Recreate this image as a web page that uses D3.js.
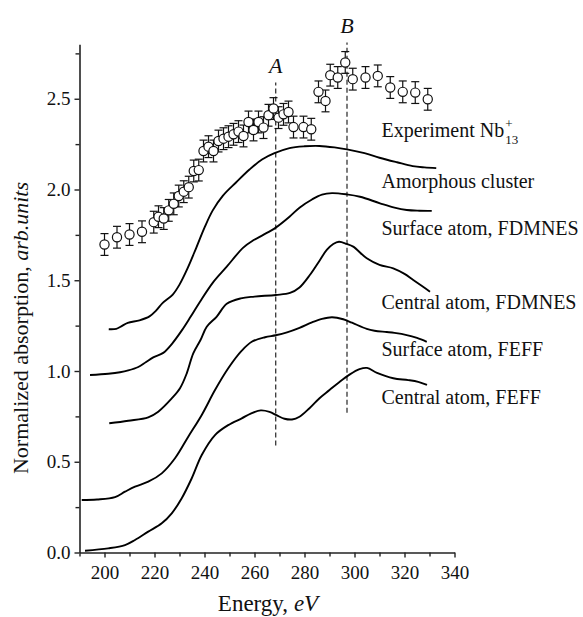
<!DOCTYPE html>
<html>
<head>
<meta charset="utf-8">
<script src="https://cdn.jsdelivr.net/npm/d3@7"></script>
<style>
  body { margin: 0; background: #fff; }
  svg text { font-family: "Liberation Serif", "Times New Roman", serif; fill: #111; }
</style>
</head>
<body>
<svg id="chart" width="583" height="617"></svg>
<script>
// experiment Nb13+ (points with error bars)
var expE = [200, 205, 210, 215, 219.7, 221.6, 223.7, 225.7, 227.7, 229.7, 231.7, 233.7, 235.7, 237.7,
  239.6, 241.6, 243.6, 245.6, 247.6, 249.6, 251.6, 253.6, 255.6, 257.6, 259.6, 261.6, 263.6, 265.6,
  267.6, 269.6, 271.6, 273.6, 275.6, 279.6, 282.7, 285.6, 288.4, 290.3, 293.3, 296.3, 299.3,
  304.4, 309.3, 314.3, 319.3, 324.3, 329.3];
var expV = [1.697, 1.737, 1.752, 1.767, 1.820, 1.850, 1.840, 1.885, 1.921, 1.964, 1.988, 2.013, 2.102, 2.107,
  2.212, 2.236, 2.212, 2.267, 2.280, 2.291, 2.304, 2.319, 2.295, 2.372, 2.328, 2.372, 2.341, 2.409,
  2.446, 2.396, 2.414, 2.427, 2.344, 2.344, 2.332, 2.538, 2.488, 2.630, 2.617, 2.700, 2.608,
  2.617, 2.626, 2.562, 2.538, 2.534, 2.497];
var expErr = [0.06, 0.06, 0.06, 0.06, 0.06, 0.06, 0.06, 0.06, 0.06, 0.06, 0.06, 0.06, 0.06, 0.06,
  0.06, 0.06, 0.06, 0.06, 0.06, 0.06, 0.06, 0.06, 0.06, 0.06, 0.06, 0.06, 0.06, 0.06,
  0.06, 0.06, 0.06, 0.06, 0.06, 0.06, 0.06, 0.06, 0.06, 0.06, 0.06, 0.06, 0.06,
  0.06, 0.06, 0.06, 0.06, 0.06, 0.06];

// theory curves
var amorphE = [201.7, 204.7, 206.7, 209.3, 214, 218, 220.7, 223.3, 227.3, 230, 233.3, 236.7, 240, 243.3,
  247.3, 252.7, 258, 263, 268, 274, 280, 286, 292, 297, 304, 310, 317, 323.3, 328, 332.7];
var amorphV = [1.230, 1.232, 1.246, 1.265, 1.279, 1.301, 1.334, 1.375, 1.421, 1.476, 1.568, 1.679, 1.790, 1.885,
  1.965, 2.040, 2.110, 2.165, 2.200, 2.228, 2.238, 2.240, 2.232, 2.221, 2.200, 2.175, 2.150, 2.129, 2.122, 2.118];

var surfFdE = [194.2, 201.5, 206.2, 209.5, 213.5, 216.5, 219.5, 223.5, 227, 231, 234.5, 238.2, 243.5, 248.9,
  255.5, 259.5, 263.5, 268.5, 274, 278, 283, 287, 291, 296.9, 302.2, 310.2, 316, 320.9, 326, 330.9];
var surfFdV = [0.978, 0.985, 0.993, 1.003, 1.022, 1.048, 1.075, 1.100, 1.150, 1.225, 1.300, 1.382, 1.490, 1.575,
  1.680, 1.720, 1.750, 1.790, 1.850, 1.900, 1.945, 1.972, 1.980, 1.973, 1.960, 1.924, 1.900, 1.887, 1.883, 1.882];

var centFdE = [201.9, 209.5, 217.5, 221.5, 226.9, 230.2, 232.9, 235.5, 238.4, 240.9, 244.9, 248.9, 254.5, 260,
  268.5, 274.2, 278, 282.2, 286.2, 288.9, 291.5, 293.8, 296.9, 299.5, 304.9, 310, 315.5, 320, 323.5, 327, 330.2];
var centFdV = [0.712, 0.726, 0.745, 0.776, 0.849, 0.905, 0.987, 1.097, 1.171, 1.244, 1.300, 1.370, 1.400, 1.410,
  1.419, 1.430, 1.460, 1.530, 1.612, 1.667, 1.700, 1.712, 1.700, 1.685, 1.621, 1.585, 1.566, 1.535, 1.501, 1.468, 1.437];

var surfFeE = [190.9, 197, 204.2, 208.2, 212.2, 217.5, 222.9, 228.2, 233.5, 238.9, 244.2, 249.5, 254.9, 258.9,
  264.2, 268.5, 273, 278, 283, 287, 291, 295.5, 299, 304.9, 308, 312.9, 316, 320.9, 325, 328.9];
var surfFeV = [0.289, 0.292, 0.305, 0.335, 0.363, 0.390, 0.436, 0.519, 0.638, 0.758, 0.895, 1.015, 1.112, 1.161,
  1.186, 1.197, 1.213, 1.238, 1.268, 1.287, 1.296, 1.285, 1.266, 1.232, 1.222, 1.215, 1.210, 1.198, 1.182, 1.161];

var centFeE = [192.2, 201.5, 208.2, 212.2, 217.5, 222.9, 226.9, 230.9, 234.9, 238.9, 244.2, 249.5, 254.9, 258.5,
  262.5, 266, 269, 272, 275, 278, 282, 286, 290, 294, 298, 302, 305, 309, 315.5, 321.5, 325.5, 329];
var centFeV = [0.010, 0.023, 0.041, 0.069, 0.115, 0.161, 0.216, 0.299, 0.409, 0.537, 0.647, 0.702, 0.739, 0.765,
  0.783, 0.775, 0.755, 0.737, 0.733, 0.748, 0.795, 0.850, 0.895, 0.940, 0.980, 1.010, 1.017, 0.990, 0.960, 0.950, 0.940, 0.923];

var curveLabels = ["Amorphous cluster", "Surface atom, FDMNES", "Central atom, FDMNES", "Surface atom, FEFF", "Central atom, FEFF"];
var labelY = [2.01, 1.75, 1.34, 1.08, 0.82];

// marker lines A and B: energy, bottom, top
var markNames = ["A", "B"];
var markE = [268.5, 297];
var markLo = [0.59, 0.77];
var markHi = [2.59, 2.81];

var xTicks = [200, 220, 240, 260, 280, 300, 320, 340];
var xMinor = [190, 210, 230, 250, 270, 290, 310, 330];
var yTicks = [0.0, 0.5, 1.0, 1.5, 2.0, 2.5];
var yMinor = [0.25, 0.75, 1.25, 1.75, 2.25, 2.75];

var svg = d3.select("#chart");

var x = d3.scaleLinear().domain([190, 340]).range([79.5, 454.5]);
var y = d3.scaleLinear().domain([0, 2.8]).range([552.5, 44.3]);

// axes
svg.append("g").attr("transform", "translate(0," + y(0) + ")")
  .call(d3.axisBottom(x).tickValues(xTicks).tickFormat(d3.format("d")).tickSize(5).tickPadding(8).tickSizeOuter(0));
svg.append("g").attr("transform", "translate(0," + y(0) + ")")
  .call(d3.axisBottom(x).tickValues(xMinor).tickFormat("").tickSize(4).tickSizeOuter(0))
  .select(".domain").remove();

svg.append("g").attr("transform", "translate(" + x(190) + ",0)")
  .call(d3.axisLeft(y).tickValues(yTicks).tickFormat(d3.format(".1f")).tickSize(5).tickPadding(4).tickSizeOuter(0));
svg.append("g").attr("transform", "translate(" + x(190) + ",0)")
  .call(d3.axisLeft(y).tickValues(yMinor).tickFormat("").tickSize(4).tickSizeOuter(0))
  .select(".domain").remove();

svg.selectAll(".domain").attr("stroke", "#222").attr("stroke-width", 1.6);
svg.selectAll(".tick line").attr("stroke", "#222").attr("stroke-width", 1.4);
svg.selectAll(".tick text").attr("font-size", 19).attr("font-family", "Liberation Serif").attr("fill", "#111");

// axis titles
var xt = svg.append("text").attr("x", 268).attr("y", 611).attr("text-anchor", "middle").attr("font-size", 23);
xt.append("tspan").text("Energy, ");
xt.append("tspan").attr("font-style", "italic").text("eV");

var yt = svg.append("text").attr("transform", "translate(28,328) rotate(-90)")
  .attr("text-anchor", "middle").attr("font-size", 22);
yt.append("tspan").text("Normalized absorption, ");
yt.append("tspan").attr("font-style", "italic").text("arb.units");

// dashed marker lines
markE.forEach(function(e, i) {
  svg.append("line")
    .attr("x1", x(e)).attr("x2", x(e))
    .attr("y1", y(markLo[i])).attr("y2", y(markHi[i]))
    .attr("stroke", "#111").attr("stroke-width", 1.1).attr("stroke-dasharray", "5,3");
  svg.append("text").attr("x", x(e)).attr("y", y(markHi[i]) - 9)
    .attr("text-anchor", "middle").attr("font-size", 22).attr("font-style", "italic")
    .text(markNames[i]);
});

// theory curves
var line = d3.line()
  .x(function(d) { return x(d[0]); })
  .y(function(d) { return y(d[1]); })
  .curve(d3.curveCatmullRom.alpha(0.5));

var curves = [[amorphE, amorphV], [surfFdE, surfFdV], [centFdE, centFdV], [surfFeE, surfFeV], [centFeE, centFeV]];
curves.forEach(function(c) {
  svg.append("path")
    .datum(d3.zip(c[0], c[1]))
    .attr("fill", "none")
    .attr("stroke", "#000")
    .attr("stroke-width", 1.9)
    .attr("d", line);
});

curveLabels.forEach(function(t, i) {
  svg.append("text").attr("x", 381.5).attr("y", y(labelY[i]))
    .attr("font-size", 20).text(t);
});

// experiment points
var pts = d3.zip(expE, expV, expErr);
var eb = svg.append("g").attr("stroke", "#111").attr("stroke-width", 1.2);
pts.forEach(function(p) {
  var cx = x(p[0]);
  eb.append("line").attr("x1", cx).attr("x2", cx).attr("y1", y(p[1] - p[2])).attr("y2", y(p[1] + p[2]));
  eb.append("line").attr("x1", cx - 4).attr("x2", cx + 4).attr("y1", y(p[1] - p[2])).attr("y2", y(p[1] - p[2]));
  eb.append("line").attr("x1", cx - 4).attr("x2", cx + 4).attr("y1", y(p[1] + p[2])).attr("y2", y(p[1] + p[2]));
});
svg.append("g").selectAll("circle")
  .data(pts)
  .enter().append("circle")
  .attr("cx", function(d) { return x(d[0]); })
  .attr("cy", function(d) { return y(d[1]); })
  .attr("r", 4.6)
  .attr("fill", "#fff")
  .attr("stroke", "#111")
  .attr("stroke-width", 1.2);

// experiment label with sup/sub
var expLab = svg.append("text").attr("x", 381.5).attr("y", y(2.29)).attr("font-size", 20).text("Experiment Nb");
var lw = expLab.node().getComputedTextLength();
svg.append("text").attr("x", 381.5 + lw + 1).attr("y", y(2.29) - 9).attr("font-size", 13).text("+");
svg.append("text").attr("x", 381.5 + lw + 1).attr("y", y(2.29) + 7).attr("font-size", 13).text("13");
</script>
</body>
</html>
